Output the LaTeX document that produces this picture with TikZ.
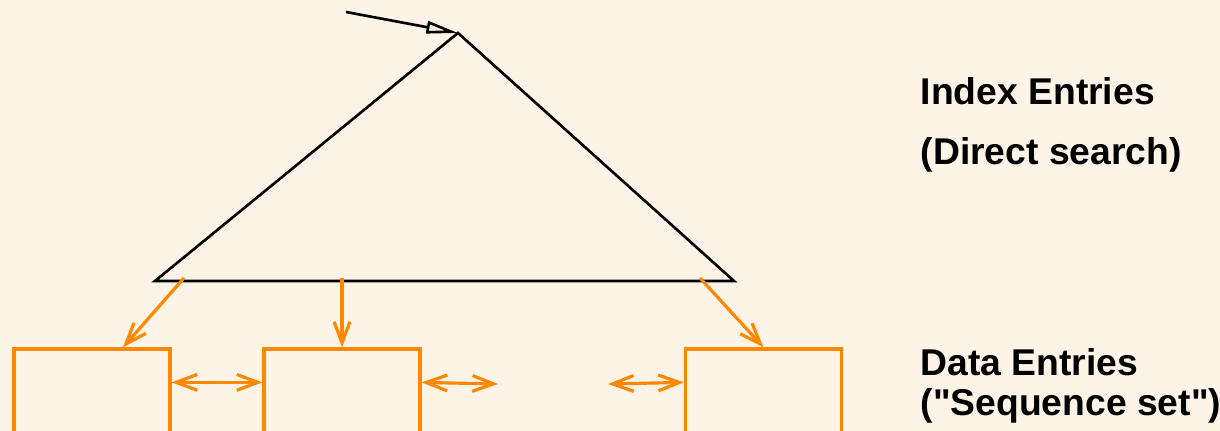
\documentclass[tikz,border=0pt]{standalone}
\usepackage{fontspec}
\setmainfont{Liberation Sans}
\usepackage{tikz}
\usetikzlibrary{arrows.meta, positioning, calc}
\definecolor{mybg}{RGB}{253,243,231}
\definecolor{myorange}{RGB}{255,136,0}
\definecolor{mydark}{RGB}{0,0,0}
\tikzset{
  datablock/.style={rectangle, draw=myorange, minimum width=1.56cm,
    minimum height=1.2cm, line width=0.9pt, inner sep=0pt},
  treeline/.style={line width=0.75pt, color=mydark},
  rootarrow/.style={-{Triangle[open, length=9pt, width=3.5pt]}, line width=0.75pt, color=mydark},
  downarrow/.style={-{Straight Barb[length=6pt, width=4.5pt]}, line width=0.9pt, color=myorange},
  linkarrow/.style={{Straight Barb[length=6pt, width=4.5pt]}-{Straight Barb[length=6pt, width=4.5pt]},
    line width=0.9pt, color=myorange},
  sidetext/.style={anchor=north west, inner sep=0pt, align=left, font=\bfseries}
}
\begin{document}
\begin{tikzpicture}[x=0.01cm, y=-0.01cm]
  \useasboundingbox (0,0) rectangle (1220,431);
  \clip (0,0) rectangle (1220,431);
  \fill[mybg] (0,0) rectangle (1220,431);

  % Index part (tree)
  \coordinate (apex) at (458,33);
  \coordinate (lft) at (155,281);
  \coordinate (rgt) at (734,281);
  \coordinate (entry) at (346,12);
  \draw[treeline] (apex) -- (rgt) -- (lft) -- cycle;
  \draw[rootarrow] (entry) -- (apex);

  % Data part (leaf pages)
  \node[datablock] (leaf1) at (92,409) {};
  \node[datablock] (leaf2) at (342,409) {};
  \node[datablock] (leaf3) at (763.5,409) {};

  \coordinate (ptr1) at (184,278);
  \coordinate (ptr2) at (342,278);
  \coordinate (ptr3) at (700,278);
  \draw[downarrow] (ptr1) -- ($(leaf1.north)+(31,0)$);
  \draw[downarrow] (ptr2) -- (leaf2.north);
  \draw[downarrow] (ptr3) -- (leaf3.north);

  \coordinate (gapL) at (498,384);
  \coordinate (gapR) at (608,384);
  \draw[linkarrow] ($(leaf1.north east)+(0,35)$) -- ($(leaf2.north west)+(0,35)$);
  \draw[linkarrow] ($(leaf2.north east)+(0,35)$) -- (gapL);
  \draw[linkarrow] (gapR) -- ($(leaf3.north west)+(0,35)$);

  % Labels
  \node[sidetext, font=\fontsize{10.6pt}{17pt}\selectfont\bfseries] (idxtext) at (920,77)
    {Index Entries\\(Direct search)};
  \node[sidetext, font=\fontsize{10.6pt}{11.4pt}\selectfont\bfseries] (datatext) at (920,348)
    {Data Entries\\(\textquotedbl Sequence set\textquotedbl)};
\end{tikzpicture}
\end{document}
